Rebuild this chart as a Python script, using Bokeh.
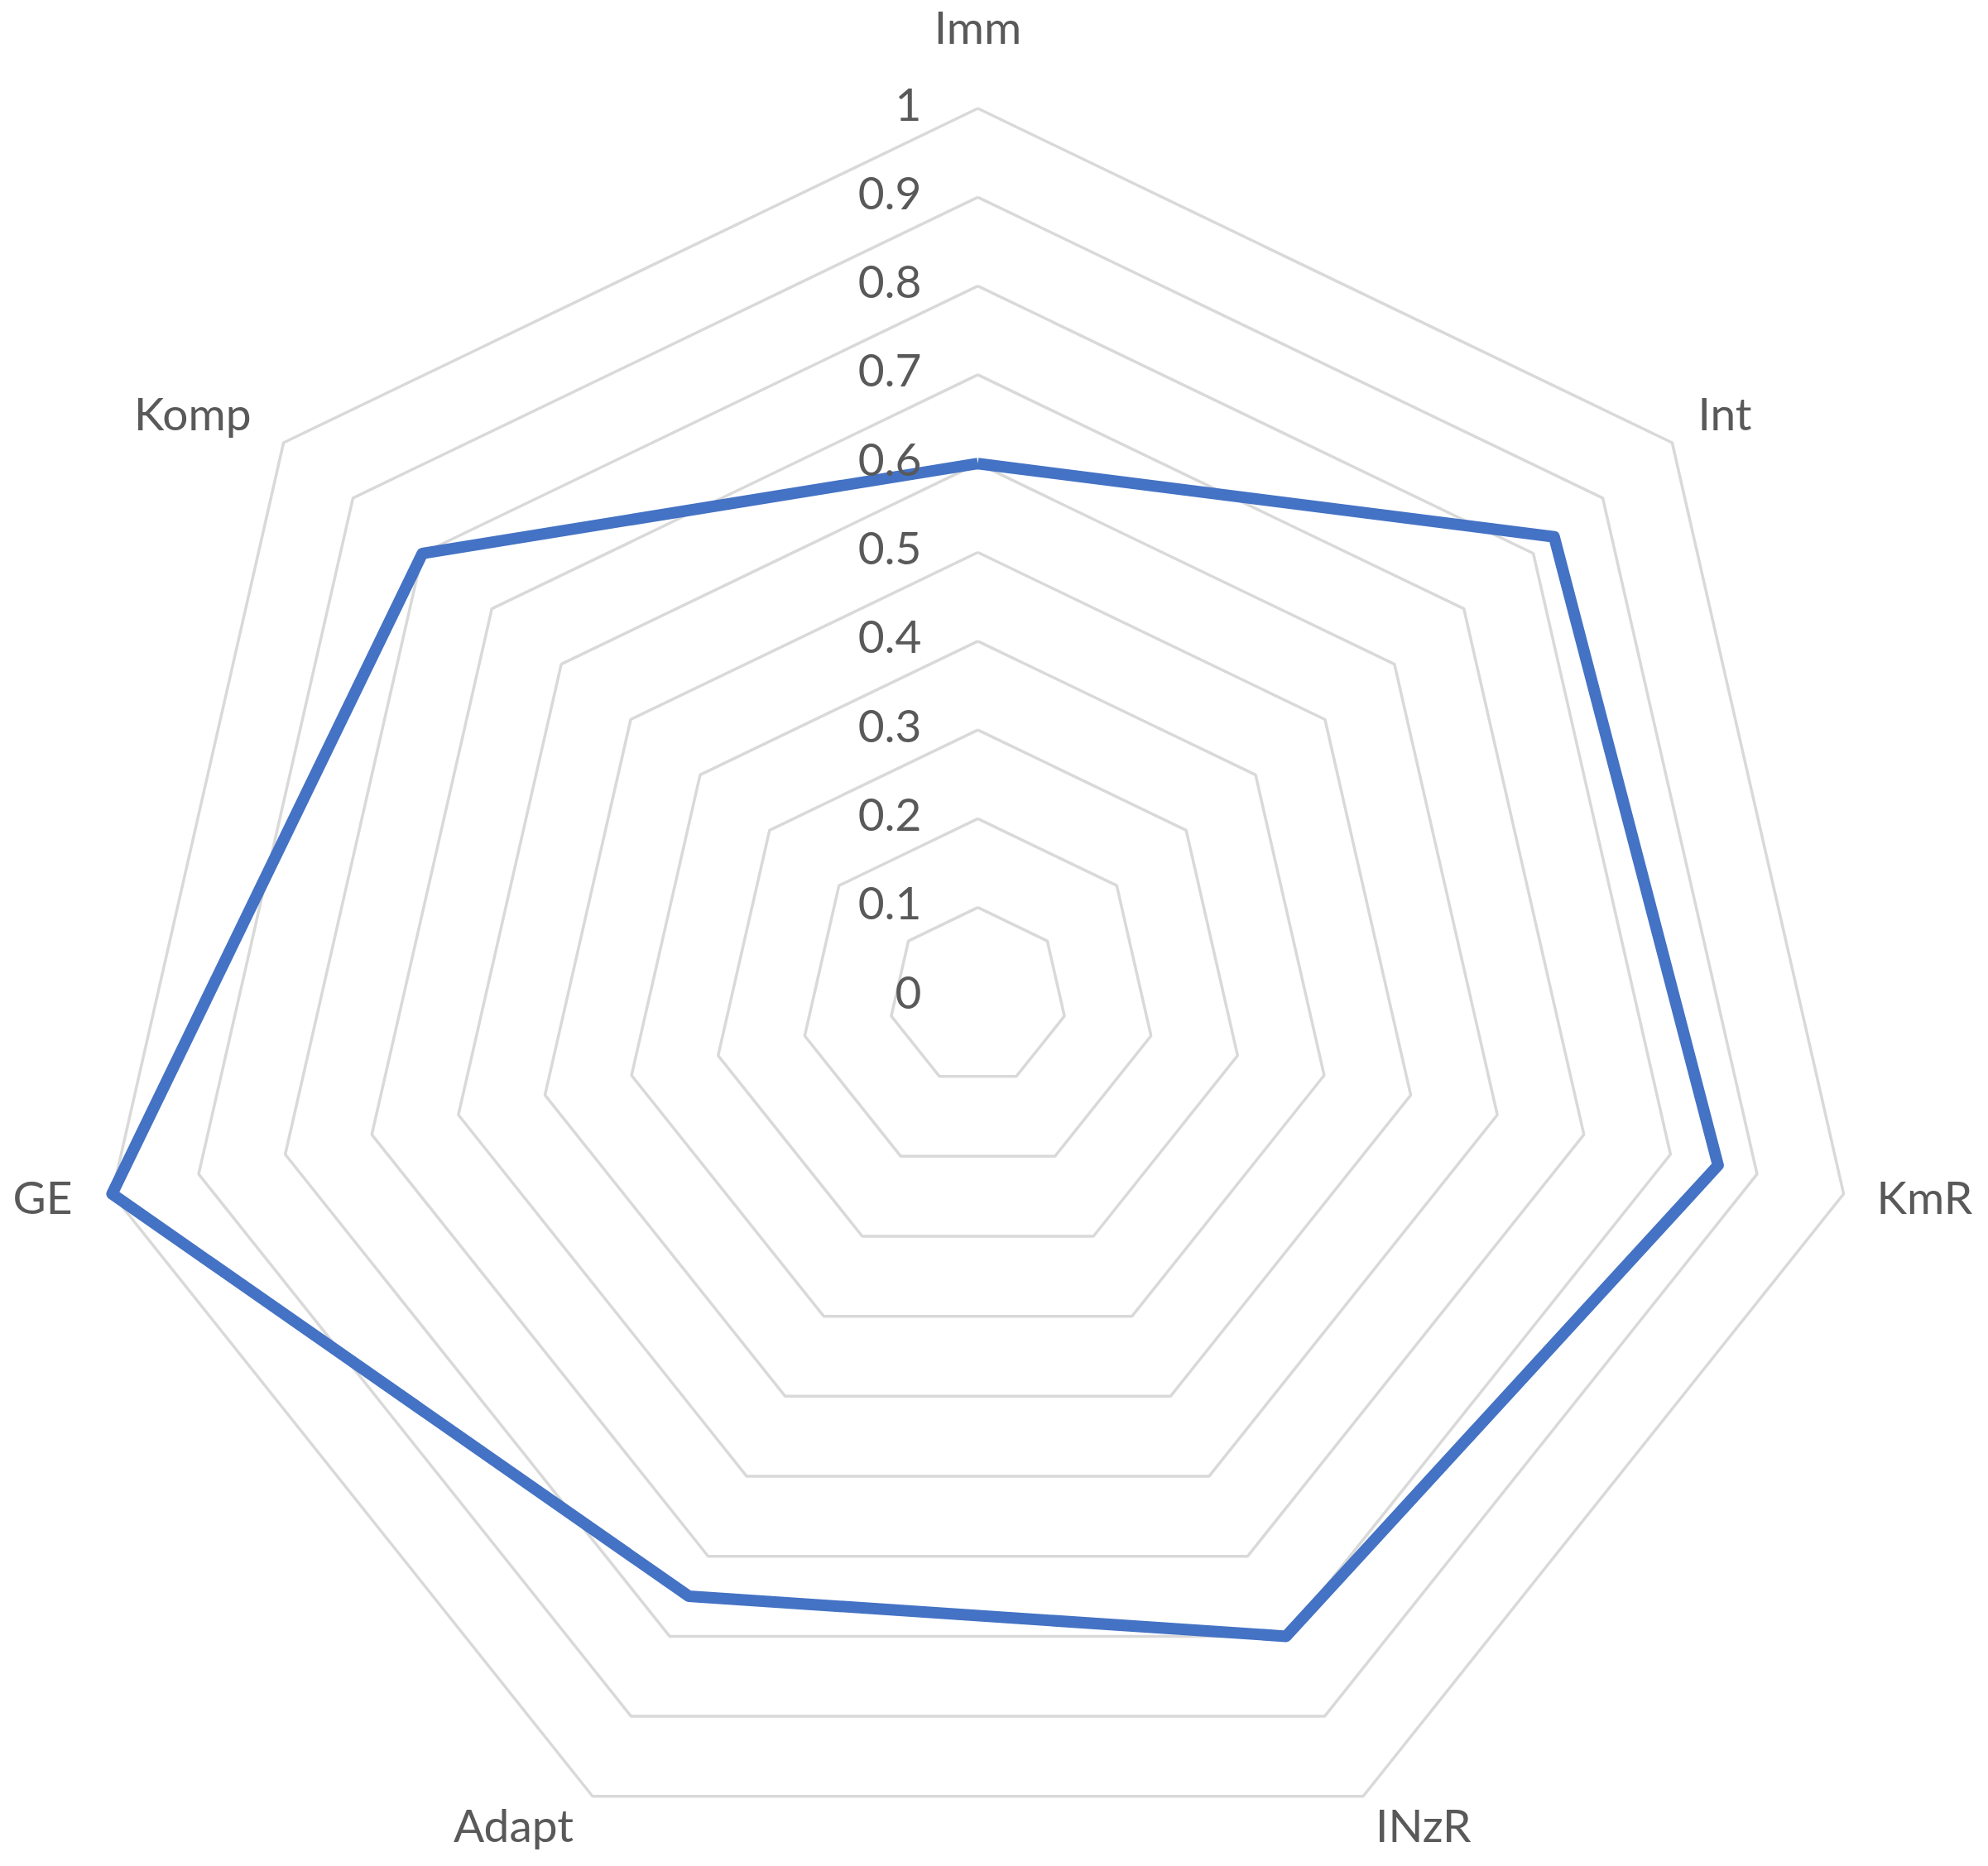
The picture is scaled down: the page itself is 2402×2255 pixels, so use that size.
import math
from bokeh.plotting import figure
from bokeh.models import Range1d
from bokeh.core.properties import value
from bokeh.embed import file_html
from bokeh.resources import INLINE

categories = ["Imm", "Int", "KmR", "INzR", "Adapt", "GE", "Komp"]
values = [0.6, 0.83, 0.855, 0.80, 0.75, 1.0, 0.80]
ring_levels = [0.1, 0.2, 0.3, 0.4, 0.5, 0.6, 0.7, 0.8, 0.9, 1.0]
tick_labels = ["0", "0.1", "0.2", "0.3", "0.4", "0.5", "0.6", "0.7", "0.8", "0.9", "1"]
tick_values = [0, 0.1, 0.2, 0.3, 0.4, 0.5, 0.6, 0.7, 0.8, 0.9, 1.0]

W, H = 2386, 2239
PX = 1073.0          # pixels per unit radius
cx, cy = 1181.0, 1203.5  # centre in figure pixels (from top-left)

p = figure(width=W, height=H, output_backend="svg", toolbar_location=None,
           x_range=Range1d(-cx / PX, (W - cx) / PX),
           y_range=Range1d(-(H - cy) / PX, cy / PX),
           min_border=0, outline_line_color=None)
p.axis.visible = False
p.grid.visible = False
p.background_fill_color = "white"
p.border_fill_color = "white"

n = len(categories)
angles = [math.pi / 2 - 2 * math.pi * i / n for i in range(n)]

# grid rings
xs_r, ys_r = [], []
for lv in ring_levels:
    xs_r.append([lv * math.cos(a) for a in angles] + [lv * math.cos(angles[0])])
    ys_r.append([lv * math.sin(a) for a in angles] + [lv * math.sin(angles[0])])
p.multi_line(xs_r, ys_r, line_color="#D9D9D9", line_width=3.5)

# series
sx = [v * math.cos(a) for v, a in zip(values, angles)]
sy = [v * math.sin(a) for v, a in zip(values, angles)]
sx.append(sx[0]); sy.append(sy[0])
p.line(sx, sy, line_color="#4472C4", line_width=14, line_join="round")

font = value("Lato")
# tick labels
p.text(x=[-68 / PX] * len(tick_values), y=tick_values, text=tick_labels,
       text_font=font, text_font_size="55px", text_color="#595959",
       text_align="right", text_baseline="middle", y_offset=-5)

# category labels
for cat, a in zip(categories, angles):
    c = math.cos(a)
    if abs(c) < 1e-6:
        r = 1.086
        align = "center"
        xo = 0
    else:
        r = 1.043
        align = "left" if c > 0 else "right"
        xo = -5 if c > 0 else -3
    p.text(x=[r * math.cos(a)], y=[r * math.sin(a)], text=[cat],
           text_font=font, text_font_size="55px", text_color="#595959",
           text_align=align, text_baseline="middle", x_offset=xo, y_offset=-7)

open("out.html", "w").write(file_html(p, INLINE))
